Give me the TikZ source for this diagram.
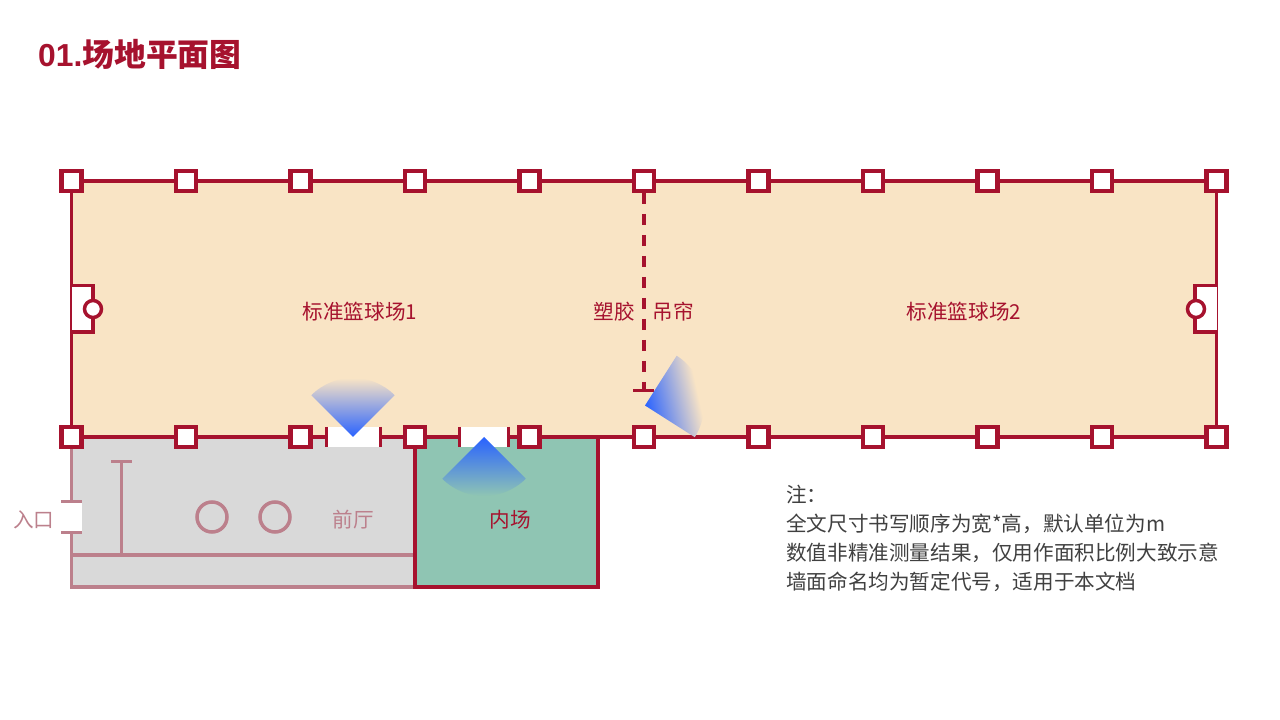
\documentclass[tikz,border=0pt]{standalone}
\usepackage{fontspec}
\setmainfont{Noto Sans CJK SC}
\newfontfamily\titlelatin{Liberation Sans}[Scale=1]
\definecolor{wallred}{HTML}{A6122E}
\definecolor{wallpale}{HTML}{BC808C}
\definecolor{hallfill}{HTML}{F9E4C5}
\definecolor{lobbyfill}{HTML}{D9D9D9}
\definecolor{arenafill}{HTML}{8FC5B3}
\definecolor{camblue}{HTML}{2962FF}
\definecolor{notegray}{HTML}{404040}
\tikzset{
  wall/.style={draw=wallred,line width=3.5pt},
  palewall/.style={draw=wallpale,line width=3.5pt},
  pillar/.style={wall,line width=4.2pt,fill=white,minimum size=20pt,inner sep=0pt},
  hoop/.style={wall,fill=white,circle,minimum size=17pt,inner sep=0pt},
  roundpost/.style={palewall,circle,minimum size=30pt,inner sep=0pt},
  zonelabel/.style={text=wallred,font=\fontsize{20.6}{24}\selectfont,inner sep=0pt},
  palelabel/.style={text=wallpale,font=\fontsize{20.6}{24}\selectfont,inner sep=0pt},
  notetext/.style={text=notegray,font=\fontsize{20.6}{24}\selectfont,anchor=west,inner sep=0pt}
}
\begin{document}
\begin{tikzpicture}[x=1pt,y=1pt]
    \useasboundingbox (0,0) rectangle (1280,720);

    %title
    \node[text=wallred,font=\fontsize{31.8}{36}\selectfont\bfseries,anchor=west,inner sep=0pt] (title) at (38,666) {{\titlelatin 01.}场地平面图};

    %floors
    \fill[hallfill] (71.5,539) rectangle (1216.5,283);
    \fill[lobbyfill] (71.5,283) rectangle (415,133);
    \fill[arenafill] (415,283) rectangle (598,133);

    %lobby walls
    \draw[palewall] (71.5,283) -- (71.5,133) -- (415,133);
    \draw[palewall] (71.5,165) -- (415,165);
    \draw[palewall] (121.5,165) -- (121.5,258);
    \draw[palewall,line width=3pt] (111,258) -- (132,258);
    \node[roundpost] (postA) at (212,203) {};
    \node[roundpost] (postB) at (275,203) {};

    %entrance
    \fill[white] (61,187) rectangle (82,217);
    \draw[palewall,line width=3pt] (61,218) -- (82,218);
    \draw[palewall,line width=3pt] (61,187) -- (82,187);

    %hall walls
    \draw[wall] (71.5,283) rectangle (1216.5,539);
    \draw[wall] (415,283) -- (415,133) -- (598,133) -- (598,283);

    %curtain
    \draw[wall,dash pattern=on 11pt off 10pt] (644,527) -- (644,330);
    \draw[wall,line width=3pt] (633,329.5) -- (654,329.5);

    %doors
    \fill[white] (327,293) rectangle (380,273);
    \fill[white] (461,293) rectangle (507,273);
    \foreach \x in {326,380,459,508}
        \draw[wall,line width=3pt] (\x,293) -- (\x,273);

    %cameras
    \begin{scope}
        \clip (353,283) -- ++(135:59) arc (135:45:59) -- cycle;
        \shade[top color=hallfill,bottom color=camblue] (294,283) rectangle (412,342);
    \end{scope}
    \begin{scope}
        \clip (484,283) -- ++(225:59) arc (225:315:59) -- cycle;
        \shade[top color=camblue,bottom color=arenafill] (425,283) rectangle (543,224);
    \end{scope}
    \begin{scope}[transform canvas={rotate around={12.5:(645,314.5)}}]
        \clip (645,314.5) -- ++(-45:59) arc (-45:45:59) -- cycle;
        \shade[left color=camblue,right color=hallfill] (645,255) rectangle (699,374);
    \end{scope}

    %pillars
    \foreach \i/\x in {0/71.5,1/186,2/300.5,3/415,4/529.5,5/644,6/758.5,7/873,8/987.5,9/1102,10/1216.5}{
        \node[pillar] (top\i) at (\x,539) {};
        \node[pillar] (bot\i) at (\x,283) {};
    }

    %goals
    \draw[wall,fill=white] (71.5,434.5) -- (93,434.5) -- (93,388) -- (71.5,388);
    \draw[wall,fill=white] (1216.5,434.5) -- (1195,434.5) -- (1195,388) -- (1216.5,388);
    \node[hoop] (hoopL) at (93,411) {};
    \node[hoop] (hoopR) at (1196,411) {};

    %labels
    \node[zonelabel] (courtA) at (360,408) {标准篮球场1};
    \node[zonelabel] (courtB) at (964,408) {标准篮球场2};
    \node[zonelabel] (plastic) at (614,408) {塑胶};
    \node[zonelabel] (drape) at (673,408) {吊帘};
    \node[zonelabel] (arena) at (510,200) {内场};
    \node[palelabel] (lobby) at (353,200) {前厅};
    \node[palelabel] (entry) at (34,200) {入口};

    %notes
    \node[notetext] (noteA) at (786,225) {注：};
    \node[notetext] (noteB) at (786,196) {全文尺寸书写顺序为宽*高，默认单位为m};
    \node[notetext] (noteC) at (786,167) {数值非精准测量结果，仅用作面积比例大致示意};
    \node[notetext] (noteD) at (786,138) {墙面命名均为暂定代号，适用于本文档};
\end{tikzpicture}
\end{document}
